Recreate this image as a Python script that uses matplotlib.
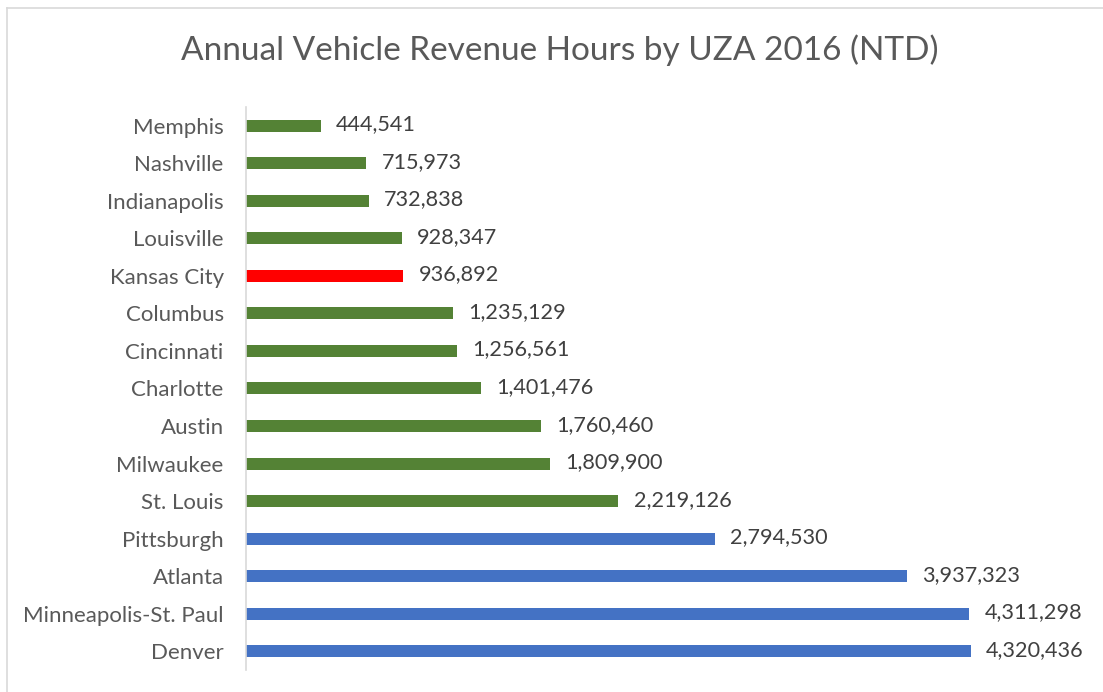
import matplotlib.pyplot as plt
from matplotlib.lines import Line2D

plt.rcParams['font.family'] = ['Lato', 'DejaVu Sans']

# data (top to bottom as shown)
cities = ["Memphis", "Nashville", "Indianapolis", "Louisville", "Kansas City",
          "Columbus", "Cincinnati", "Charlotte", "Austin", "Milwaukee",
          "St. Louis", "Pittsburgh", "Atlanta", "Minneapolis-St. Paul", "Denver"]
hours = [444541, 715973, 732838, 928347, 936892,
         1235129, 1256561, 1401476, 1760460, 1809900,
         2219126, 2794530, 3937323, 4311298, 4320436]
groups = ["peer", "peer", "peer", "peer", "kc",
          "peer", "peer", "peer", "peer", "peer",
          "peer", "big", "big", "big", "big"]

group_colors = {"peer": "#548235", "kc": "#FF0000", "big": "#4472C4"}

fig = plt.figure(figsize=(11.03, 6.92), dpi=100)
ax = fig.add_axes([0.2230, 0.0318, 0.7607, 0.8136])

y = list(range(len(cities)))
colors = [group_colors[g] for g in groups]
ax.barh(y, hours, height=0.32, color=colors)

for yi, v in zip(y, hours):
    ax.annotate(f"{v:,}", xy=(v, yi), xytext=(11, 1), textcoords="offset points",
                va="center", ha="left", fontsize=15.6, color="#404040")

ax.set_ylim(len(cities) - 0.5, -0.5)
ax.set_xlim(0, 5_000_000)
ax.set_yticks(y)
ax.set_yticklabels(cities, fontsize=16, color="#595959")
ax.tick_params(axis="y", length=0, pad=16)
ax.set_xticks([])
for s in ["top", "right", "bottom"]:
    ax.spines[s].set_visible(False)
ax.spines["left"].set_color("#D9D9D9")
ax.spines["left"].set_linewidth(1.2)

fig.text(0.5075, 0.928, "Annual Vehicle Revenue Hours by UZA 2016 (NTD)",
         ha="center", va="center", fontsize=24, color="#595959")

# chart area border (top and left edges visible)
fig.add_artist(Line2D([7 / 1103, 7 / 1103], [0, 1 - 8 / 692], color="#D9D9D9", lw=1.2,
                      transform=fig.transFigure))
fig.add_artist(Line2D([7 / 1103, 1], [1 - 8 / 692, 1 - 8 / 692], color="#D9D9D9", lw=1.2,
                      transform=fig.transFigure))

fig.savefig("out.png", dpi=100)
